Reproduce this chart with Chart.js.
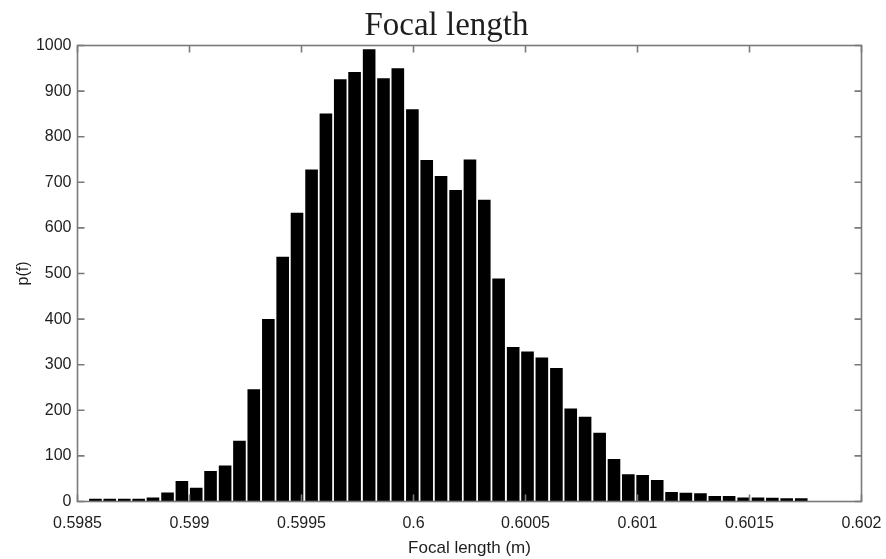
<!DOCTYPE html>
<html>
<head>
<meta charset="utf-8">
<title>Focal length</title>
<script src="https://cdn.jsdelivr.net/npm/chart.js@4.4.1/dist/chart.umd.min.js"></script>
<style>
  html, body { margin: 0; padding: 0; background: #fff; }
  #wrap { width: 886px; height: 559px; }
</style>
</head>
<body>
<div id="wrap"><canvas id="focalHist" width="886" height="559"></canvas></div>
<script>
// histogram bin centres (m)
const binCenters = [
  0.598580, 0.598644, 0.598709, 0.598773, 0.598837, 0.598902, 0.598966, 0.599030, 0.599094, 0.599159,
  0.599223, 0.599287, 0.599352, 0.599416, 0.599480, 0.599545, 0.599609, 0.599673, 0.599737, 0.599802,
  0.599866, 0.599930, 0.599995, 0.600059, 0.600123, 0.600188, 0.600252, 0.600316, 0.600380, 0.600445,
  0.600509, 0.600573, 0.600638, 0.600702, 0.600766, 0.600831, 0.600895, 0.600959, 0.601023, 0.601088,
  0.601152, 0.601216, 0.601281, 0.601345, 0.601409, 0.601474, 0.601538, 0.601602, 0.601666, 0.601731
];

// counts per bin
const counts = [
  6, 6, 6, 6, 9, 20, 45, 30, 67, 79,
  133, 246, 400, 537, 633, 728, 851, 926, 942, 992,
  928, 950, 860, 749, 714, 683, 750, 662, 489, 339,
  329, 316, 293, 204, 186, 151, 93, 60, 58, 47,
  21, 19, 18, 12, 12, 9, 9, 8, 7, 7
];

const xTicks = [0.5985, 0.599, 0.5995, 0.6, 0.6005, 0.601, 0.6015, 0.602];
const xTickLabels = ['0.5985', '0.599', '0.5995', '0.6', '0.6005', '0.601', '0.6015', '0.602'];
const yTicks = [0, 100, 200, 300, 400, 500, 600, 700, 800, 900, 1000];

const axisColor = '#7a7a7a';
const textColor = '#1e1e1e';
const sans = '"Liberation Sans", Arial, sans-serif';

// matlab style box with ticks pointing inwards, plus the title
const boxTicks = {
  id: 'boxTicks',
  afterDatasetsDraw(chart) {
    const { ctx, chartArea: a, scales } = chart;
    const len = 7;
    ctx.save();
    ctx.strokeStyle = axisColor;
    ctx.lineWidth = 1.6;
    ctx.beginPath();
    xTicks.forEach(v => {
      const px = scales.x.getPixelForValue(v);
      ctx.moveTo(px, a.bottom); ctx.lineTo(px, a.bottom - len);
      ctx.moveTo(px, a.top); ctx.lineTo(px, a.top + len);
    });
    yTicks.forEach(v => {
      const py = scales.y.getPixelForValue(v);
      ctx.moveTo(a.left, py); ctx.lineTo(a.left + len, py);
      ctx.moveTo(a.right, py); ctx.lineTo(a.right - len, py);
    });
    ctx.stroke();
    ctx.strokeRect(a.left, a.top, a.right - a.left, a.bottom - a.top);

    ctx.fillStyle = textColor;
    ctx.font = '33px "Liberation Serif", "Times New Roman", serif';
    ctx.textAlign = 'center';
    ctx.textBaseline = 'alphabetic';
    ctx.fillText('Focal length', 446.5, 35);
    ctx.restore();
  }
};

const points = binCenters.map((x, i) => ({ x: x, y: counts[i] }));

new Chart(document.getElementById('focalHist'), {
  type: 'bar',
  data: {
    datasets: [{
      data: points,
      backgroundColor: '#000',
      borderWidth: 0,
      barPercentage: 0.88,
      categoryPercentage: 1.0
    }]
  },
  options: {
    responsive: false,
    animation: false,
    layout: { padding: { left: 0, right: 24.5, top: 45.5, bottom: 0 } },
    plugins: {
      legend: { display: false },
      tooltip: { enabled: false },
      title: { display: false }
    },
    scales: {
      x: {
        type: 'linear',
        offset: false,
        min: 0.5985,
        max: 0.602,
        afterBuildTicks: s => { s.ticks = xTicks.map(v => ({ value: v })); },
        afterFit: s => { s.height = 57.5; s.paddingLeft = 0; s.paddingRight = 0; },
        grid: { display: false, drawTicks: false, offset: false },
        border: { display: false },
        ticks: {
          padding: 12,
          color: textColor,
          maxRotation: 0,
          autoSkip: false,
          font: { family: sans, size: 16 },
          callback: (v, i) => xTickLabels[i]
        },
        title: {
          display: true,
          text: 'Focal length (m)',
          color: textColor,
          font: { family: sans, size: 17 },
          padding: { top: 0, bottom: 0 }
        }
      },
      y: {
        min: 0,
        max: 1000,
        afterBuildTicks: s => { s.ticks = yTicks.map(v => ({ value: v })); },
        afterFit: s => { s.width = 77.5; s.paddingTop = 0; s.paddingBottom = 0; },
        grid: { display: false, drawTicks: false },
        border: { display: false },
        ticks: {
          padding: 6,
          color: textColor,
          font: { family: sans, size: 16 },
          callback: v => String(v)
        },
        title: {
          display: true,
          text: 'p(f)',
          color: textColor,
          font: { family: sans, size: 16 },
          padding: { top: 14, bottom: 0 }
        }
      }
    }
  },
  plugins: [boxTicks]
});
</script>
</body>
</html>
